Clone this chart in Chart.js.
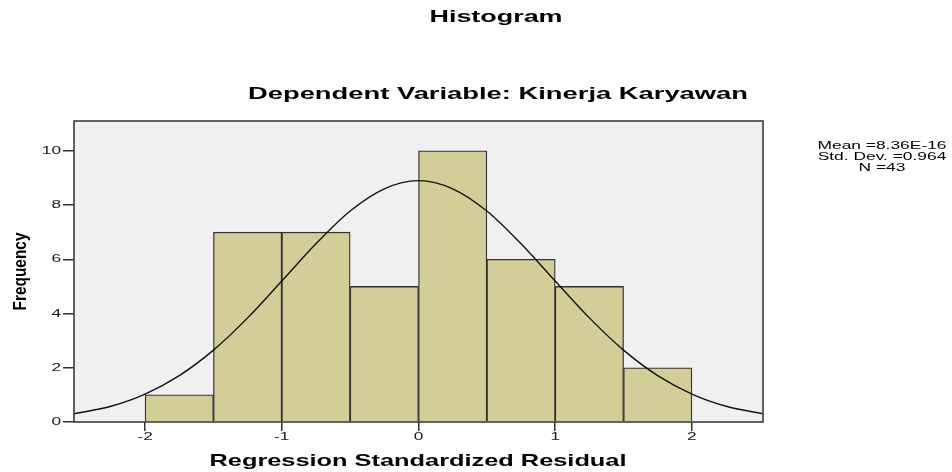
<!DOCTYPE html>
<html>
<head>
<meta charset="utf-8">
<script src="https://cdn.jsdelivr.net/npm/chart.js@4.4.1/dist/chart.umd.min.js"></script>
<style>
  html, body { margin: 0; padding: 0; background: #fff; }
  #wrap { width: 952px; height: 472px; }
</style>
</head>
<body>
<div id="wrap"><canvas id="histChart" width="952" height="472"></canvas></div>
<script>
// histogram bins (centre of each 0.5 wide bin) and counts
const binCenters = [-1.75, -1.25, -0.75, -0.25, 0.25, 0.75, 1.25, 1.75];
const binCounts = [1, 7, 7, 5, 10, 6, 5, 2];

// normal curve
const curveX = [-2.52, -2.25, -2, -1.75, -1.5, -1.25, -1, -0.75, -0.5, -0.25, 0, 0.25, 0.5, 0.75, 1, 1.25, 1.5, 1.75, 2, 2.25, 2.52];
const curveY = [0.3, 0.58, 1.03, 1.71, 2.65, 3.84, 5.2, 6.57, 7.78, 8.6, 8.9, 8.6, 7.78, 6.57, 5.2, 3.84, 2.65, 1.71, 1.03, 0.58, 0.3];

const xTicks = [-2, -1, 0, 1, 2];
const yTicks = [0, 2, 4, 6, 8, 10];

const chartTitle = 'Histogram';
const chartSubtitle = 'Dependent Variable: Kinerja Karyawan';
const xTitle = 'Regression Standardized Residual';
const yTitle = 'Frequency';
const statLines = ['Mean =8.36E-16', 'Std. Dev. =0.964', 'N =43'];

const FONT = '"Liberation Sans", Arial, sans-serif';

// draws text squeezed/stretched to a given width (the original is stretched sideways)
function drawFitted(ctx, text, cx, cy, font, width, sy) {
    ctx.font = font;
    const w = ctx.measureText(text).width;
    ctx.save();
    ctx.translate(cx, cy);
    ctx.scale(width / w, sy || 1);
    ctx.textAlign = 'center';
    ctx.textBaseline = 'middle';
    ctx.fillText(text, 0, 0);
    ctx.restore();
}

function drawScaled(ctx, text, x, y, font, sx, align) {
    ctx.font = font;
    ctx.save();
    ctx.translate(x, y);
    ctx.scale(sx, 1);
    ctx.textAlign = align;
    ctx.textBaseline = 'middle';
    ctx.fillText(text, 0, 0);
    ctx.restore();
}

const spssPlugin = {
    id: 'spss',
    beforeDraw(chart) {
        const { ctx, chartArea: a } = chart;
        ctx.save();
        ctx.fillStyle = '#f0f0f0';
        ctx.fillRect(a.left, a.top, a.right - a.left, a.bottom - a.top);
        ctx.restore();
    },
    afterDraw(chart) {
        const { ctx, chartArea: a } = chart;
        const xs = chart.scales.x, ys = chart.scales.y;
        ctx.save();
        // frame
        ctx.strokeStyle = '#3c3c3c';
        ctx.lineWidth = 1.6;
        ctx.strokeRect(a.left, a.top, a.right - a.left, a.bottom - a.top);

        // tick labels
        ctx.fillStyle = '#1a1a1a';
        ys.ticks.forEach((t, i) => {
            drawScaled(ctx, String(t.value), 61, ys.getPixelForTick(i), '11.5px ' + FONT, 1.5, 'right');
        });
        xs.ticks.forEach((t, i) => {
            drawScaled(ctx, String(t.value), xs.getPixelForTick(i), 437, '11.5px ' + FONT, 1.5, 'center');
        });

        // titles
        ctx.fillStyle = '#000';
        drawFitted(ctx, chartTitle, 496, 18, 'bold 16px ' + FONT, 133);
        drawFitted(ctx, chartSubtitle, 498, 94, 'bold 17px ' + FONT, 500);
        drawFitted(ctx, xTitle, 418, 461, 'bold 17px ' + FONT, 417);

        ctx.save();
        ctx.translate(21, (a.top + a.bottom) / 2);
        ctx.rotate(-Math.PI / 2);
        drawFitted(ctx, yTitle, 0, 0, 'bold 18px ' + FONT, 78);
        ctx.restore();

        // stats box
        ctx.font = '11.5px ' + FONT;
        const sx = 129 / ctx.measureText(statLines[0]).width;
        statLines.forEach((s, i) => {
            drawScaled(ctx, s, 882, 146 + i * 11, '11.5px ' + FONT, sx, 'center');
        });
        ctx.restore();
    }
};

const ctx = document.getElementById('histChart').getContext('2d');
new Chart(ctx, {
    type: 'bar',
    data: {
        datasets: [{
            type: 'line',
            data: curveX.map((x, i) => ({ x: x, y: curveY[i] })),
            borderColor: '#111',
            borderWidth: 1.4,
            pointRadius: 0,
            cubicInterpolationMode: 'monotone',
            fill: false,
            order: 0
        }, {
            type: 'bar',
            data: binCenters.map((x, i) => ({ x: x, y: binCounts[i] })),
            backgroundColor: '#d3ce98',
            borderColor: '#333',
            borderWidth: 1.3,
            barPercentage: 1,
            categoryPercentage: 1,
            order: 1
        }]
    },
    options: {
        responsive: false,
        animation: false,
        devicePixelRatio: 1,
        layout: { padding: { top: 121, right: 189, bottom: 0, left: 0 } },
        plugins: {
            legend: { display: false },
            tooltip: { enabled: false }
        },
        scales: {
            x: {
                type: 'linear',
                min: -2.52,
                max: 2.52,
                offset: false,
                grid: { offset: false, drawOnChartArea: false, drawTicks: true, tickLength: 9, color: '#333', lineWidth: 1.5 },
                border: { display: false },
                ticks: { display: false },
                afterBuildTicks: (scale) => { scale.ticks = xTicks.map(v => ({ value: v })); },
                afterFit: (scale) => { scale.height = 50; }
            },
            y: {
                min: 0,
                max: 11.1,
                grid: { drawOnChartArea: false, drawTicks: true, tickLength: 11, color: '#333', lineWidth: 1.5 },
                border: { display: false },
                ticks: { display: false },
                afterBuildTicks: (scale) => { scale.ticks = yTicks.map(v => ({ value: v })); },
                afterFit: (scale) => { scale.width = 74; }
            }
        }
    },
    plugins: [spssPlugin]
});
</script>
</body>
</html>
